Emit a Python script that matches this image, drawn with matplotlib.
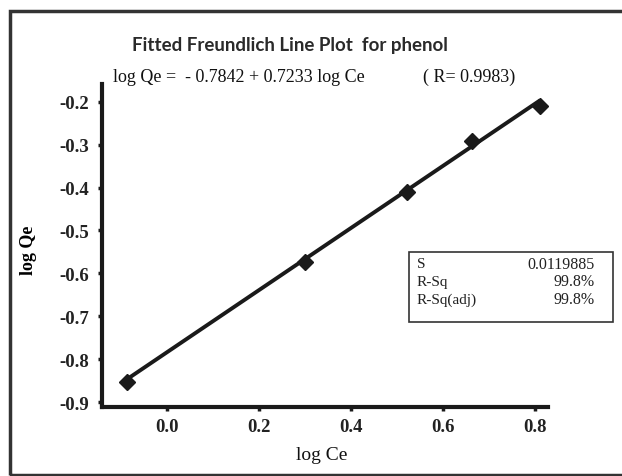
import matplotlib
matplotlib.use("Agg")
from matplotlib import pyplot as plt
from matplotlib.patches import Rectangle
import numpy as np

# data
log_ce = [-0.087, 0.301, 0.522, 0.663, 0.812]
log_qe = [-0.852, -0.573, -0.411, -0.291, -0.211]
intercept = -0.7842
slope = 0.7233
r_value = 0.9983
x_ticks = [0.0, 0.2, 0.4, 0.6, 0.8]
y_ticks = [-0.9, -0.8, -0.7, -0.6, -0.5, -0.4, -0.3, -0.2]
stats_names = ["S", "R-Sq", "R-Sq(adj)"]
stats_values = ["0.0119885", "99.8%", "99.8%"]

serif = "Liberation Serif"

figure = plt.figure(figsize=(6.22, 4.77), dpi=100)
axes = figure.add_axes([0.1635, 0.1447, 0.7175, 0.6771])

fit_x = np.array([min(log_ce), max(log_ce)])
axes.plot(fit_x, intercept + slope * fit_x, color="#1a1a1a", lw=2.8, solid_capstyle="butt")
axes.plot(log_ce, log_qe, linestyle="none", marker="D", markersize=8,
          color="#1a1a1a")

axes.set_xlim(-0.141, 0.829)
axes.set_ylim(-0.911, -0.159)
axes.set_xticks(x_ticks)
axes.set_yticks(y_ticks)
axes.set_xticklabels(["%.1f" % v for v in x_ticks])
axes.set_yticklabels(["%.1f" % v for v in y_ticks])
for lab in axes.get_xticklabels() + axes.get_yticklabels():
    lab.set_fontfamily(serif)
    lab.set_fontsize(13.5)
    lab.set_fontweight("bold")
    lab.set_color("#222222")
axes.tick_params(axis="y", direction="out", length=3, width=2.5, color="#1a1a1a", pad=6)
axes.tick_params(axis="x", direction="out", length=3, width=2.5, color="#1a1a1a", pad=5)
for side in ["top", "right"]:
    axes.spines[side].set_visible(False)
for side in ["left", "bottom"]:
    axes.spines[side].set_linewidth(3)
    axes.spines[side].set_color("#1a1a1a")

figure.text(322 / 622, 1 - 456 / 477, "log Ce", ha="center", va="center",
            fontfamily=serif, fontsize=14, color="#111111")
figure.text(0.046, 0.476, "log Qe", rotation=90, ha="center", va="center",
            fontfamily=serif, fontsize=13, fontweight="bold")

figure.text(0.466, 0.905, "Fitted Freundlich Line Plot  for phenol",
            ha="center", va="center", fontfamily="Lato", fontsize=13.5, fontweight="bold",
            color="#2a2a2a")
figure.text(0.182, 1 - 77 / 477, "log Qe =  - %.4f + %.4f log Ce" % (-intercept, slope),
            ha="left", va="center", fontfamily=serif, fontsize=13, color="#111111")
figure.text(423 / 622, 1 - 77 / 477, "( R= %.4f)" % r_value,
            ha="left", va="center", fontfamily=serif, fontsize=13, color="#111111")

# statistics box
figure.patches.append(Rectangle((409 / 622, 1 - 323 / 477), 204 / 622, 70 / 477,
                                transform=figure.transFigure, fill=False,
                                edgecolor="#333333", lw=1.2))
for i, (name, value) in enumerate(zip(stats_names, stats_values)):
    y = 1 - (265 + 17.5 * i) / 477
    figure.text(417 / 622, y, name, ha="left", va="center",
                fontfamily=serif, fontsize=11, color="#222222")
    figure.text(595 / 622, y, value, ha="right", va="center",
                fontfamily=serif, fontsize=11.5, color="#222222")

# outer frame of the figure
figure.patches.append(Rectangle((10 / 622, 1 - 476 / 477), 640 / 622, 464 / 477,
                                transform=figure.transFigure, fill=False,
                                edgecolor="#333333", lw=2.5))

figure.savefig("out.png", dpi=100)
